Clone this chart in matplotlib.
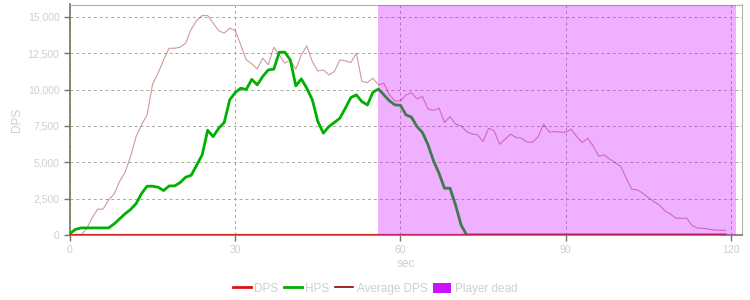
import matplotlib

matplotlib.use('Agg')
import numpy as np
import matplotlib.pyplot as plt
from matplotlib.ticker import FuncFormatter
from matplotlib.patches import Patch
from matplotlib.lines import Line2D

matplotlib.rcParams.update({'font.family': ['Liberation Sans', 'DejaVu Sans'], 'font.size': 7.5})

TEXT = '#cfcfcf'

# seconds 0..72 (healing stops when the player dies)
hps = [100, 380, 480, 480, 480, 480, 480, 480, 750, 1100,
       1450, 1750, 2150, 2850, 3350, 3350, 3280, 3050, 3370, 3370,
       3600, 3970, 4100, 4800, 5500, 7200, 6760, 7340, 7730, 9290,
       9790, 10090, 10000, 10700, 10320, 10900, 11350, 11400, 12570, 12570,
       12040, 10250, 10730, 10090, 9290, 7800, 7000, 7450, 7730, 8030,
       8720, 9450, 9630, 9170, 8940, 9820, 10030, 9630, 9220, 8940,
       8920, 8260, 8100, 7450, 7040, 6200, 5100, 4240, 3210, 3210,
       2060, 690, 0]

# seconds 0..119
avg_dps = [0, 0, 0, 420, 1150, 1770, 1770, 2400, 2800, 3670,
           4300, 5400, 6760, 7570, 8260, 10370, 11130, 12040, 12840, 12840,
           12910, 13190, 14150, 14750, 15090, 15090, 14570, 14040, 13880, 14220,
           14060, 13070, 12040, 11770, 11420, 12160, 11700, 12910, 12380, 11810,
           12040, 11400, 12380, 13000, 11920, 11280, 11350, 11010, 11240, 12040,
           11970, 11860, 12500, 10550, 10480, 10780, 10320, 10430, 9630, 9220,
           9220, 9630, 9790, 9360, 9520, 8670, 8560, 8720, 7730, 8140,
           7620, 7500, 7110, 6950, 6880, 6420, 7340, 7160, 6240, 6580,
           6930, 6700, 6650, 6380, 6380, 6760, 7620, 7070, 7110, 7070,
           7070, 7270, 6760, 6350, 6650, 6100, 5410, 5500, 5210, 4970,
           4700, 3900, 3140, 3100, 2870, 2570, 2290, 2060, 1650, 1440,
           1150, 1150, 1150, 620, 460, 460, 390, 340, 320, 320]

dps = [0] * 120
dead_start, dead_end = 56, 121

t_all = np.arange(len(avg_dps))
hps_full = hps + [0] * (len(avg_dps) - len(hps))

fig = plt.figure(figsize=(7.5, 3), dpi=100)
ax = fig.add_axes([0.0933, 0.217, 0.896, 0.768])

ax.plot(t_all, avg_dps, color='#8b0000', linewidth=0.8, alpha=0.4, zorder=3)
ax.plot(t_all, hps_full, color='#00b000', linewidth=2, zorder=4)
ax.plot(t_all, dps, color='#e01010', linewidth=1.6, alpha=0.8, zorder=5)
ax.axvspan(dead_start, dead_end, color='#cc00ff', alpha=0.31, linewidth=0, zorder=6)

ax.set_xlim(0, 122)
ax.set_ylim(0, 15850)
ax.set_xticks([0, 30, 60, 90, 120])
ax.set_yticks(np.arange(0, 15001, 2500))
ax.yaxis.set_major_formatter(FuncFormatter(lambda v, p: '{:,.0f}'.format(v)))
ax.grid(True, color='#a8a898', linestyle=(0, (3, 3)), linewidth=0.7)
ax.set_axisbelow(True)

for s in ['left', 'bottom']:
    ax.spines[s].set_color('#76765e')
    ax.spines[s].set_linewidth(1.2)
for s in ['top', 'right']:
    ax.spines[s].set_color('#b4b4a4')
ax.tick_params(axis='both', colors='#76765e', labelcolor=TEXT, length=4, width=1)

ax.set_xlabel('sec', color=TEXT, fontsize=8.5)
ax.xaxis.set_label_coords(0.5, -0.10)
ax.set_ylabel('DPS', color=TEXT, fontsize=8.5)
ax.yaxis.set_label_coords(-0.07, 0.5)

handles = [Line2D([], [], color='#e01010', linewidth=2),
           Line2D([], [], color='#00b000', linewidth=2),
           Line2D([], [], color='#8b0000', linewidth=1.2),
           Patch(facecolor='#cc11ff', edgecolor='none')]
leg = fig.legend(handles, ['DPS', 'HPS', 'Average DPS', 'Player dead'],
                 loc='center', bbox_to_anchor=(0.5, 0.037), ncol=4, frameon=False,
                 fontsize=8.5, handlelength=1.5, handletextpad=0.3, columnspacing=0.5,
                 handleheight=1.0)
for t in leg.get_texts():
    t.set_color(TEXT)

fig.savefig('out.png')
